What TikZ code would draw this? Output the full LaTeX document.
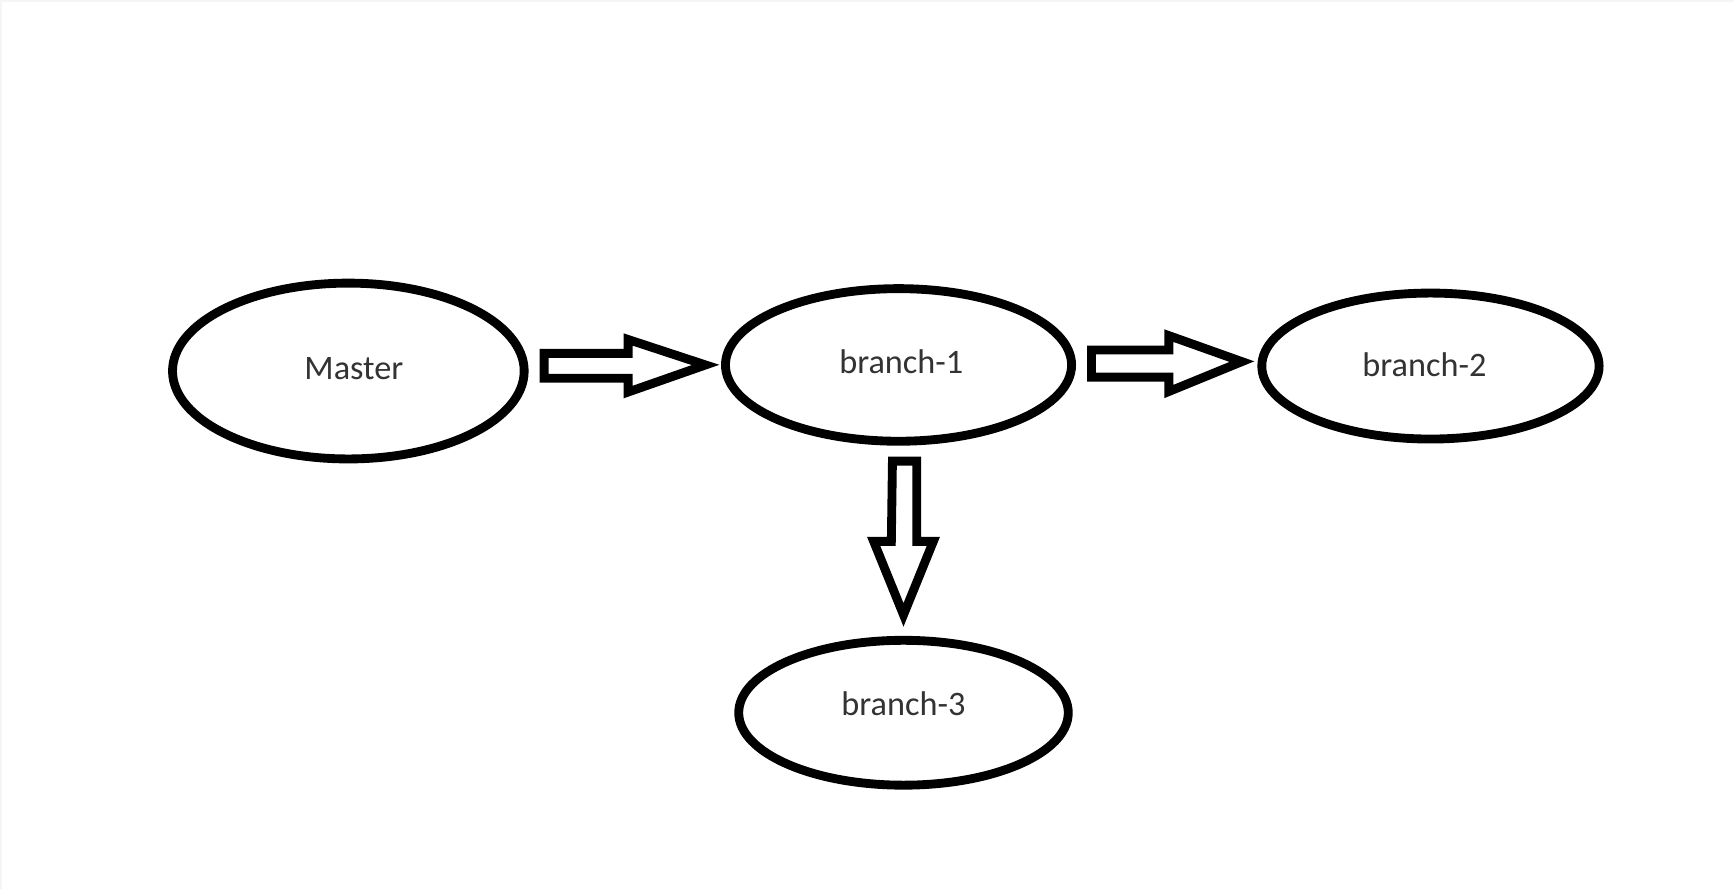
\documentclass[tikz,border=0pt]{standalone}
\usepackage{fontspec}
\setmainfont{Carlito}
\usetikzlibrary{shapes.geometric}
\tikzset{
  bubble/.style={ellipse, draw=black, line width=4pt, fill=white, inner sep=0pt},
  label/.style={text=black!80, font=\fontsize{15.5pt}{18pt}\selectfont},
  blockarrow/.style={draw=black, line width=4pt, fill=white, line join=miter}
}
\begin{document}
\begin{tikzpicture}[x=0.5pt, y=-0.5pt]
  % page with a faint edge on the top and left
  \fill[black!4] (0,0) rectangle (1568,804);
  \fill[white] (2,2) rectangle (1568,804);
  \useasboundingbox (0,0) rectangle (1568,804);

  % branches
  \node[bubble, minimum width=159pt, minimum height=79.5pt] (m) at (315,335.5) {};
  \node[bubble, minimum width=156.5pt, minimum height=69pt] (b1) at (812.5,330) {};
  \node[bubble, minimum width=152.5pt, minimum height=66pt] (b2) at (1293.5,331) {};
  \node[bubble, minimum width=149pt, minimum height=65.5pt] (b3) at (817,644.5) {};

  \node[label] (tm) at (320,333) {Master};
  \node[label] (t1) at (815,327) {branch-1};
  \node[label] (t2) at (1288,330) {branch-2};
  \node[label] (t3) at (817,636) {branch-3};

  % hollow block arrows between the branches
  \coordinate (a1) at (492,330.5);
  \coordinate (a1tip) at (638,330);
  \draw[blockarrow] (a1) ++(0,-11) -- ++(76,0) -- ++(0,-12.5) -- (a1tip)
    -- ++(-70,24.5) -- ++(0,-12.5) -- ++(-76,0) -- cycle;

  \coordinate (a2) at (987,328);
  \coordinate (a2tip) at (1123,327);
  \draw[blockarrow] (a2) ++(0,-11.5) -- ++(70,0) -- ++(0,-13) -- (a2tip)
    -- ++(-66,27) -- ++(0,-13) -- ++(-70,0) -- cycle;

  \coordinate (a3) at (818,417);
  \coordinate (a3tip) at (817,556);
  \draw[blockarrow] (a3) ++(-11,0) -- ++(22,0) -- ++(0,72.5) -- ++(15,0) -- (a3tip)
    -- ++(-27,-66.5) -- ++(16,0) -- cycle;
\end{tikzpicture}
\end{document}
